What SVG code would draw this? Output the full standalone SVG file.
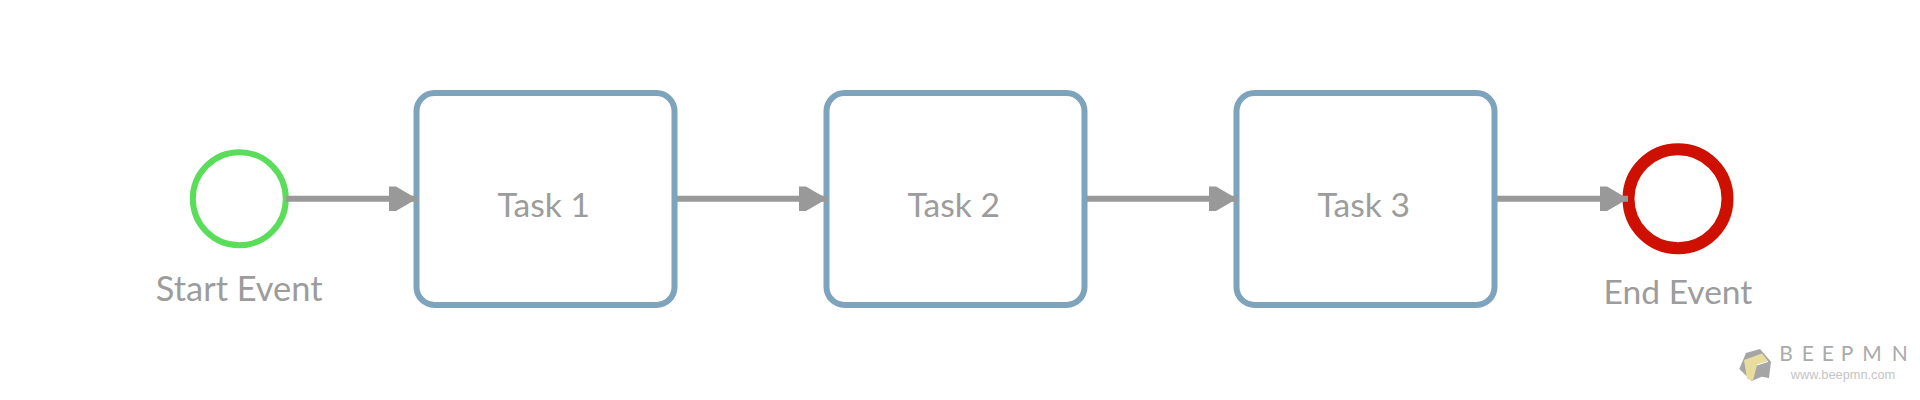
<svg xmlns="http://www.w3.org/2000/svg" width="1920" height="400" viewBox="0 0 1920 400">
<style>
text{font-family:Lato,"Open Sans",sans-serif;fill:#9c9c9c;text-anchor:middle;font-size:33.6px}
.task{fill:#fff;stroke:#7ea3bc;stroke-width:6}
.flow{stroke:#999;stroke-width:6;fill:none;marker-end:url(#arrow)}
</style>
<defs>
<marker id="arrow" markerUnits="userSpaceOnUse" markerWidth="30" markerHeight="26" refX="28" refY="13" orient="auto">
<path d="M0 .7H7L28 13L7 25.3H0Z" fill="#999"/>
</marker>
</defs>
<rect width="1920" height="400" fill="#fff"/>
<g id="start-event">
<circle cx="239.3" cy="198.7" r="46.5" fill="#fff" stroke="#5ade5a" stroke-width="6"/>
<text x="239.2" y="301" style="font-size:34.4px">Start Event</text>
</g>
<g id="task-1"><rect class="task" x="416.5" y="93" width="258" height="212" rx="18"/><text x="543.7" y="217">Task 1</text></g>
<g id="task-2"><rect class="task" x="826.5" y="93" width="258" height="212" rx="18"/><text x="953.7" y="217">Task 2</text></g>
<g id="task-3"><rect class="task" x="1236.5" y="93" width="258" height="212" rx="18"/><text x="1363.7" y="217">Task 3</text></g>
<g id="end-event">
<circle cx="1678" cy="198.7" r="49.5" fill="#fff" stroke="#cd1000" stroke-width="12"/>
<text x="1678" y="304.3">End Event</text>
</g>
<g id="connectors">
<path class="flow" d="M286 198.7H417"/>
<path class="flow" d="M677 198.7H827"/>
<path class="flow" d="M1087 198.7H1237"/>
<path class="flow" d="M1497 198.7H1628"/>
</g>
<g id="logo">
<path d="M1739.3 369L1746 353L1760 349L1771 361.7L1769 378L1761.7 376.7L1751.7 381Z" fill="#a5a5a5"/>
<path d="M1744 360L1762 353.5L1768 361L1757 365L1753 380.5L1747 379Z" fill="#e9dd9d"/>
<path d="M1757 365L1768 361.5" stroke="#fff" stroke-width="1" fill="none"/>
<text x="1779.3 1801.7 1821.7 1840.7 1862.3 1891.7" y="361" style="font-size:21px;text-anchor:start;fill:#aaa">BEEPMN</text>
<text x="1843" y="379" style="font-family:'Liberation Sans',sans-serif;font-size:12.8px;fill:#c4c4c4">www.beepmn.com</text>
</g>
</svg>
